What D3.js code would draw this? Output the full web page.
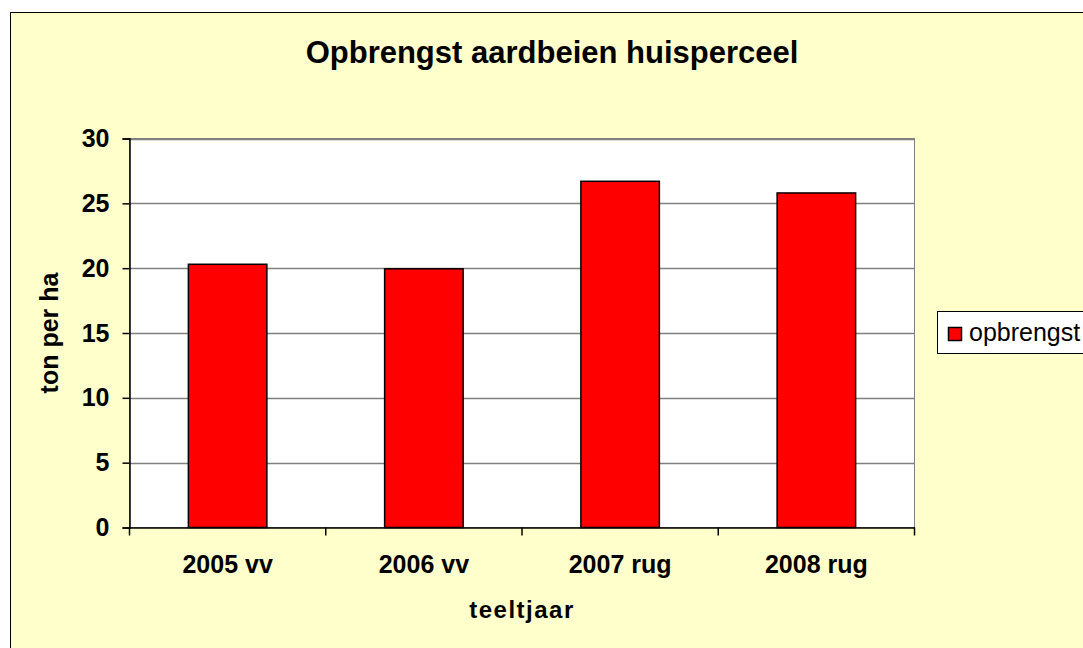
<!DOCTYPE html>
<html><head><meta charset="utf-8">
<script src="https://cdn.jsdelivr.net/npm/d3@7"></script>
<style>html,body{margin:0;padding:0;background:#fff;}svg{display:block;}</style>
</head><body>
<svg id="c" width="1083" height="648"></svg>
<script>
const categories = ["2005 vv", "2006 vv", "2007 rug", "2008 rug"];
const values = [20.3, 19.95, 26.7, 25.8];
const yTicks = [0, 5, 10, 15, 20, 25, 30];
const seriesName = "opbrengst";
const title = "Opbrengst aardbeien huisperceel";
const xTitle = "teeltjaar";
const yTitle = "ton per ha";

const svg = d3.select("#c");
const font = "'Liberation Sans', Arial, sans-serif";

// chart area
svg.append("rect").attr("x", 10.5).attr("y", 12.5).attr("width", 1100).attr("height", 700)
  .attr("fill", "#FFFFCC").attr("stroke", "#000").attr("stroke-width", 1);

const plot = {left: 129.5, right: 914.5, top: 138.5, bottom: 527.5};

const x = d3.scaleBand().domain(categories).range([plot.left, plot.right]).paddingInner(0.6).paddingOuter(0.3);
const y = d3.scaleLinear().domain([0, 30]).range([plot.bottom, plot.top]);

// plot area
svg.append("rect").attr("x", plot.left).attr("y", plot.top)
  .attr("width", plot.right - plot.left).attr("height", plot.bottom - plot.top)
  .attr("fill", "#fff").attr("stroke", "#808080").attr("stroke-width", 1);

// gridlines
svg.append("g").selectAll("line").data(yTicks.filter(d => d > 0)).join("line")
  .attr("x1", plot.left).attr("x2", plot.right)
  .attr("y1", d => Math.round(y(d)) + 0.5).attr("y2", d => Math.round(y(d)) + 0.5)
  .attr("stroke", "#808080").attr("stroke-width", 1.5);

// bars
svg.append("g").selectAll("rect").data(values).join("rect")
  .attr("x", (d, i) => x(categories[i]))
  .attr("width", x.bandwidth())
  .attr("y", d => y(d))
  .attr("height", d => y(0) - y(d))
  .attr("fill", "#FF0000").attr("stroke", "#000").attr("stroke-width", 1.5);

// y axis
const yAxis = d3.axisLeft(y).tickValues(yTicks).tickSize(7).tickPadding(13).tickFormat(d3.format("d"));
const gy = svg.append("g").attr("transform", `translate(${plot.left},0)`).call(yAxis);
gy.select(".domain").attr("stroke", "#000").attr("stroke-width", 1.5);
gy.selectAll(".tick line").attr("stroke", "#000").attr("stroke-width", 1.5);
gy.selectAll(".tick text").attr("font-family", font).attr("font-size", 25).attr("font-weight", "bold").attr("fill", "#000");

// x axis
const xAxis = d3.axisBottom(x).tickSize(0).tickPadding(28);
const gx = svg.append("g").attr("transform", `translate(0,${plot.bottom})`).call(xAxis);
gx.select(".domain").attr("stroke", "#000").attr("stroke-width", 1.5);
gx.selectAll(".tick text").attr("font-family", font).attr("font-size", 25).attr("font-weight", "bold").attr("fill", "#000");
// category boundary ticks
const bounds = d3.range(categories.length + 1).map(i => plot.left + i * x.step());
gx.append("g").selectAll("line").data(bounds).join("line")
  .attr("x1", d => d).attr("x2", d => d).attr("y1", 0).attr("y2", 8)
  .attr("stroke", "#000").attr("stroke-width", 1.5);

// title
svg.append("text").attr("x", 552).attr("y", 63).attr("text-anchor", "middle")
  .attr("font-family", font).attr("font-size", 31).attr("font-weight", "bold").text(title);

// axis titles
svg.append("text").attr("x", (plot.left + plot.right) / 2).attr("y", 618).attr("text-anchor", "middle")
  .attr("font-family", font).attr("font-size", 24).attr("font-weight", "bold").attr("letter-spacing", 1.5).text(xTitle);
svg.append("text").attr("transform", `translate(58,${(plot.top + plot.bottom) / 2}) rotate(-90)`)
  .attr("text-anchor", "middle")
  .attr("font-family", font).attr("font-size", 25).attr("font-weight", "bold").text(yTitle);

// legend
const lg = svg.append("g");
lg.append("rect").attr("x", 937.5).attr("y", 311.5).attr("width", 200).attr("height", 42)
  .attr("fill", "#fff").attr("stroke", "#000").attr("stroke-width", 1);
lg.append("rect").attr("x", 948.5).attr("y", 327.5).attr("width", 13).attr("height", 13)
  .attr("fill", "#FF0000").attr("stroke", "#000").attr("stroke-width", 1.5);
lg.append("text").attr("x", 969).attr("y", 341).attr("font-family", font).attr("font-size", 25)
  .attr("fill", "#000").text(seriesName);
</script>
</body></html>
